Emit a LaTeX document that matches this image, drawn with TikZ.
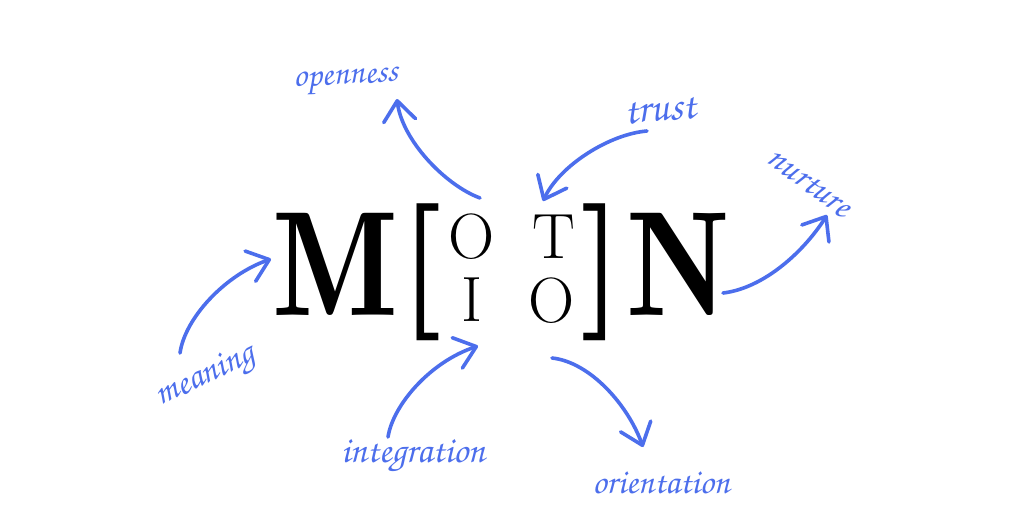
\documentclass[tikz,border=0pt]{standalone}
\usepackage{fontspec}
\newfontfamily\hand{texgyrechorus-mediumitalic.otf}
\newfontfamily\demi{lmromandemi10-regular.otf}
\usetikzlibrary{arrows.meta}
\definecolor{brush}{RGB}{76,110,236}
\tikzset{
  big/.style={inner sep=0pt, anchor=base, font=\demi\fontsize{149}{149}\selectfont, xscale=0.89},
  small/.style={inner sep=0pt, anchor=base, font=\fontsize{64}{64}\selectfont},
  brk/.style={inner sep=0pt, anchor=center, font=\bfseries\fontsize{137}{137}\selectfont},
  lbl/.style={inner sep=0pt, anchor=base, text=brush, font=\hand\fontsize{34}{34}\selectfont},
  arr/.style={draw=brush, line width=3.6pt, line cap=round,
    -{Straight Barb[length=20pt, width=32pt, line width=3.6pt, round]}},
}
\begin{document}
\begin{tikzpicture}[x=1pt, y=-1pt]
\useasboundingbox[fill=white] (0,0) rectangle (1024,515);
% MOTION
\node[big] (M) at (335.5,315) {M};
\node[brk] (lb) at (421,272.5) {[};
\node[small] (o1) at (471.5,258) {O};
\node[small] (i1) at (471.5,321) {I};
\node[small] (t1) at (553.5,258) {T};
\node[small] (o2) at (552,322) {O};
\node[brk] (rb) at (602,272.5) {]};
\node[big] (N) at (678,315) {N};
% labels
\node[lbl, rotate=3] (open) at (346,84) {openness};
\node[lbl, rotate=5, font=\hand\fontsize{42}{42}\selectfont] (trust) at (661,121) {trust};
\node[lbl, rotate=-37, anchor=center, font=\hand\fontsize{36}{36}\selectfont] (nurt) at (809,183) {nurture};
\node[lbl, rotate=25, anchor=center, font=\hand\fontsize{36}{36}\selectfont] (mean) at (206,377) {meaning};
\node[lbl, font=\hand\fontsize{37}{37}\selectfont] (integ) at (413,462) {integration};
\node[lbl, font=\hand\fontsize{35}{35}\selectfont] (orient) at (661,493) {orientation};
% arrow ends
\coordinate (a1) at (480,198); \coordinate (b1) at (397,99);
\coordinate (a2) at (647,131); \coordinate (b2) at (543,201);
\coordinate (a3) at (723,293); \coordinate (b3) at (827,215);
\coordinate (a4) at (180,353); \coordinate (b4) at (271,259);
\coordinate (a5) at (388,437); \coordinate (b5) at (478,346);
\coordinate (a6) at (552,358); \coordinate (b6) at (643,447);
\draw[arr] (a1) .. controls (445,185) and (402,140) .. (b1);
\draw[arr] (a2) .. controls (610,134) and (560,165) .. (b2);
\draw[arr] (a3) .. controls (765,288) and (805,250) .. (b3);
\draw[arr] (a4) .. controls (185,318) and (225,275) .. (b4);
\draw[arr] (a5) .. controls (393,405) and (430,362) .. (b5);
\draw[arr] (a6) .. controls (590,362) and (628,405) .. (b6);
\end{tikzpicture}
\end{document}
